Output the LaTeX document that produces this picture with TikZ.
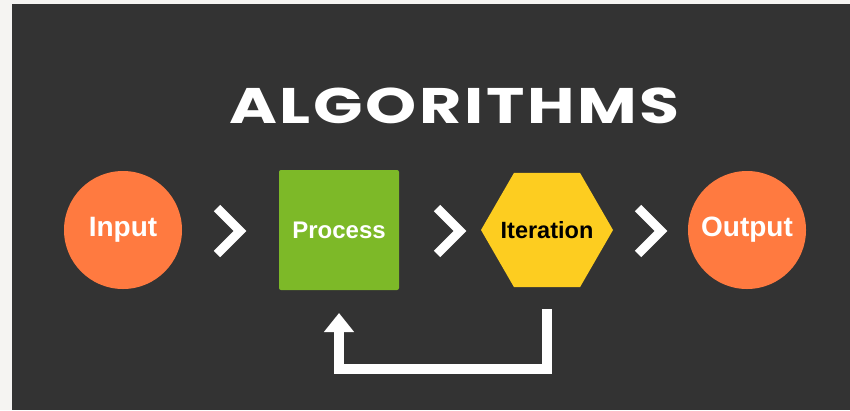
\documentclass[tikz,border=0pt]{standalone}
\usepackage{fontspec}
\setmainfont{Liberation Sans}
\newfontfamily\headfont[LetterSpace=4]{Poppins}
\usetikzlibrary{positioning,shapes.geometric,arrows.meta}
\definecolor{pagegray}{RGB}{245,244,242}
\definecolor{slatebg}{RGB}{51,51,51}
\definecolor{flameorange}{RGB}{255,122,64}
\definecolor{leafgreen}{RGB}{125,185,40}
\definecolor{sunyellow}{RGB}{253,205,32}

\begin{document}
\begin{tikzpicture}[
  x=1pt, y=-1pt,
  circ/.style={circle, fill=flameorange, minimum size=118pt, inner sep=0pt, outer sep=0pt,
    text=white, font=\fontsize{28}{30}\selectfont\bfseries},
  box/.style={rectangle, rounded corners=2pt, fill=leafgreen, minimum size=120pt, inner sep=0pt,
    outer sep=0pt, text=white, font=\fontsize{24}{26}\selectfont\bfseries},
  hexa/.style={regular polygon, regular polygon sides=6, fill=sunyellow, minimum size=132pt,
    inner sep=0pt, outer sep=0pt},
  hexatext/.style={text=black, font=\fontsize{23.5}{26}\selectfont\bfseries},
  chev/.style={draw=white, line width=9pt, miter limit=10},
  chevron/.pic={\draw[chev] (-23,-23) -- (0,0) -- (-23,23);},
  loop/.style={draw=white, line width=9.5pt, -{Triangle[width=29pt,length=19pt]}}
]
  \fill[pagegray] (0,0) rectangle (850,410);
  \fill[slatebg] (12,4) rectangle (850,410);

  \node[text=white, font=\headfont\bfseries\fontsize{50}{52}\selectfont] (title) at (454.5,105.5)
    {\scalebox{1.3}[1]{ALGORITHMS}};

  \node[circ] (input) at (123,230) {Input};
  \node[box, right=97pt of input] (process) {Process};
  \node[hexa, right=82pt of process, label={[hexatext]center:Iteration}] (iter) {};
  \node[circ, right=75pt of iter] (output) {Output};

  \pic at (240,231) {chevron};
  \pic at (460,231) {chevron};
  \pic at (661,231) {chevron};

  \coordinate (loopa) at ([yshift=-22pt]iter.south);
  \coordinate (loopb) at ([yshift=-23pt]process.south);
  \draw[loop] (loopa) -- ++(0,60) -| (loopb);
\end{tikzpicture}
\end{document}
